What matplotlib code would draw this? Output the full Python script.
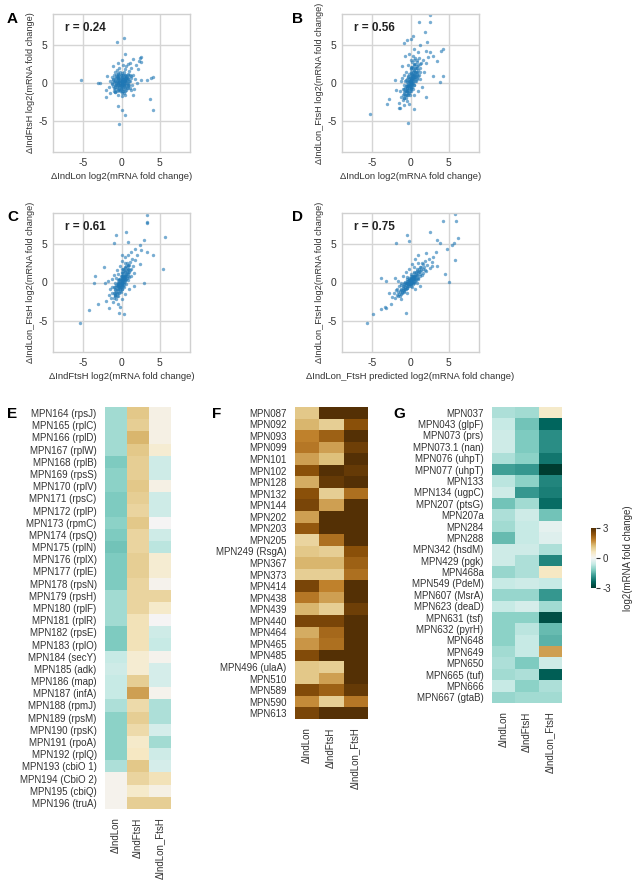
import matplotlib
matplotlib.use("Agg")
import matplotlib.pyplot as plt
import numpy as np

plt.rcParams['font.family'] = ['Liberation Sans', 'DejaVu Sans']
plt.rcParams['axes.unicode_minus'] = False

W, H = 638, 881

# -------------------------
# Scatter data (x, y)
# -------------------------
panel_a = [  # dIndLon vs dIndFtsH
    (-0.9, 0.3), (-0.8, -0.2), (-0.7, 0.6), (-0.6, -0.5), (-0.6, 0.9), (-0.5, 0.1), (-0.5, -0.9),
    (-0.4, 0.4), (-0.4, 1.2), (-0.3, -0.3), (-0.3, 0.7), (-0.2, 0.0), (-0.2, -1.1), (-0.2, 1.5),
    (-0.1, 0.3), (-0.1, -0.6), (0.0, 0.1), (0.0, 0.8), (0.0, -0.4), (0.1, 1.1), (0.1, -0.1),
    (0.1, -1.3), (0.2, 0.5), (0.2, 0.2), (0.2, -0.8), (0.3, 1.4), (0.3, 0.0), (0.3, -0.4),
    (0.4, 0.7), (0.4, -1.0), (0.5, 0.3), (0.5, 1.8), (0.6, -0.2), (0.6, 0.9), (0.7, 0.4),
    (0.7, -0.7), (0.8, 1.2), (0.8, 0.0), (0.9, 0.6), (1.0, -0.3), (1.0, 1.6), (1.1, 0.2),
    (1.2, 0.9), (1.3, 2.0), (-1.0, -0.6), (-1.1, 0.5), (-1.2, -0.1), (-1.3, 0.8), (-1.5, 0.2),
    (-1.6, -0.5), (-0.8, 1.4), (-0.6, 1.7), (-0.4, -1.5), (0.0, -1.7), (0.4, -1.6), (0.6, 2.2),
    (0.9, 2.5), (1.5, 1.1), (1.6, -0.8), (1.8, 0.5), (-0.3, 2.0), (0.2, 2.4), (-0.9, -1.2),
    (1.4, -0.2), (0.1, 0.4), (-0.1, 0.6), (0.3, 0.3), (-0.2, -0.2), (0.0, -0.1), (0.2, -0.3),
    (-0.4, 0.0), (0.5, -0.5), (-0.5, 0.5), (0.6, 0.6), (-0.7, -0.3), (0.8, -0.4), (1.1, 1.0),
    (-1.0, 1.0), (0.4, 1.0), (-0.3, -0.8), (2.2, 1.8), (2.6, 2.8), (2.5, 3.4), (1.9, 2.4),
    (-0.5, 2.6), (0.0, 3.0), (-1.9, 0.9), (-2.1, -0.9),
    (-5.35, 0.44), (-0.57, 5.4), (0.3, 5.84), (-3.07, 0.0), (-2.85, 0.0), (0.44, 3.76),
    (2.4, 3.3), (2.3, 2.9), (3.3, 0.44), (3.9, 0.66), (4.1, 0.75), (3.8, -2.1), (4.2, -3.5),
    (-0.44, -3.0), (0.0, -3.5), (0.44, -4.2), (-0.35, -5.4), (-2.06, -1.77), (-1.5, -1.3),
    (1.5, -1.5), (1.3, -0.9), (2.0, 0.0), (2.6, 0.4), (1.1, 2.65), (1.5, 3.1), (-1.1, 2.2),
]
core_a = [
    (-1.2, 0.0), (-1.1, -0.4), (-1.1, 0.4), (-1.0, 0.1), (-0.9, -0.8), (-0.9, 0.7), (-0.8, 0.2),
    (-0.8, -0.5), (-0.7, 1.0), (-0.7, -0.1), (-0.6, 0.3), (-0.6, -1.0), (-0.5, 0.8), (-0.5, -0.3),
    (-0.4, -0.6), (-0.4, 0.6), (-0.3, 1.1), (-0.3, 0.1), (-0.2, -0.9), (-0.2, 0.4), (-0.1, 1.0),
    (-0.1, -0.3), (0.0, -1.0), (0.0, 0.3), (0.0, 1.3), (0.1, -0.6), (0.1, 0.7), (0.2, -1.1),
    (0.2, 1.0), (0.3, -0.1), (0.3, 0.6), (0.4, -0.7), (0.4, 0.2), (0.5, 1.1), (0.5, -0.1),
    (0.6, 0.3), (0.6, -0.9), (0.7, 0.8), (0.7, 0.0), (0.8, 0.5), (0.9, -0.2), (0.9, 1.0),
    (1.0, 0.3), (1.1, -0.6), (-0.5, 1.3), (-1.0, -1.1), (0.3, -1.3), (-0.6, 0.0), (0.0, 0.0),
    (0.1, 0.1), (-0.2, 0.2), (0.2, -0.2), (-0.3, -0.4), (0.4, 0.4), (-0.1, -0.5), (0.5, 0.6),
    (-0.4, 0.9), (0.8, -0.6), (-0.8, -1.2), (1.2, 0.6),
]

panel_b = [  # dIndLon vs dIndLon_FtsH
    (-1.2, -1.8), (-1.0, -2.2), (-1.0, -0.8), (-0.9, -1.4), (-0.8, -0.3), (-0.8, -2.0), (-0.7, -1.0),
    (-0.7, 0.2), (-0.6, -1.6), (-0.6, -0.4), (-0.5, 0.5), (-0.5, -1.1), (-0.4, -0.7), (-0.4, 0.1),
    (-0.4, -2.4), (-0.3, -0.2), (-0.3, 0.8), (-0.3, -1.3), (-0.2, 0.3), (-0.2, -0.6), (-0.2, 1.2),
    (-0.1, -0.1), (-0.1, 0.6), (-0.1, -1.0), (0.0, 0.0), (0.0, 1.0), (0.0, -0.5), (0.0, 1.8),
    (0.1, 0.4), (0.1, -0.3), (0.1, 1.4), (0.2, 0.7), (0.2, -0.1), (0.2, 2.1), (0.3, 1.0),
    (0.3, 0.2), (0.3, -0.8), (0.4, 1.6), (0.4, 0.5), (0.5, 1.2), (0.5, 2.5), (0.5, -0.2),
    (0.6, 0.8), (0.6, 1.9), (0.7, 1.4), (0.7, 0.3), (0.8, 2.2), (0.8, 1.0), (0.9, 2.8),
    (0.9, 0.6), (1.0, 1.7), (1.1, 1.1), (1.1, 3.2), (1.2, 2.0), (1.3, 0.5), (1.4, 2.6),
    (-1.4, -1.0), (-1.5, -2.6), (-1.3, 0.2), (-1.1, 0.6), (-0.9, 1.0), (-0.6, 1.5), (-0.3, 2.4),
    (0.0, 3.0), (0.3, 3.5), (0.6, 3.3), (1.0, 4.0), (0.4, 4.5), (-0.2, 3.8), (1.6, 3.0),
    (1.8, 1.5), (2.0, 2.6), (1.5, -0.5), (1.0, -1.0), (0.5, -1.5), (-0.2, -2.8), (-0.8, -2.9),
    (0.1, 0.1), (0.0, 0.4), (-0.1, 0.2), (0.2, 0.9), (-0.3, -0.4), (0.3, 0.6), (-0.5, -0.6),
    (0.4, 1.1), (0.1, -0.6), (-0.2, -0.2), (0.6, 1.5), (0.8, 3.0), (1.2, 2.5), (2.3, 3.4),
    (2.0, 4.2),
    (-5.3, -4.1), (-0.3, -5.2), (-2.8, -2.1), (-3.05, -2.8), (-1.55, -3.3), (-1.4, -3.2),
    (0.5, -3.45), (2.1, -1.86), (3.9, 0.1), (4.25, 0.97), (3.0, 0.97), (3.45, 2.9), (4.25, 4.4),
    (4.0, 4.2), (2.55, 8.9), (2.55, 7.9), (1.06, 8.0), (1.95, 6.6), (0.3, 6.1), (0.0, 5.8),
    (-0.9, 5.2), (-0.45, 5.55), (1.2, 4.9), (2.2, 5.3), (2.5, 4.0), (3.0, 3.5), (-0.75, 3.5),
    (-1.1, 2.2), (-2.1, 0.4), (-1.9, -0.9),
]
core_b = [
    (-0.8, -1.9), (-0.8, -1.2), (-0.7, -1.6), (-0.7, -0.6), (-0.6, -1.1), (-0.6, -2.0), (-0.5, -0.9),
    (-0.5, -1.5), (-0.5, -0.2), (-0.4, -1.2), (-0.4, -0.4), (-0.3, -1.6), (-0.3, -0.9), (-0.3, 0.1),
    (-0.2, -1.3), (-0.2, -0.4), (-0.2, 0.5), (-0.1, -0.7), (-0.1, 0.3), (-0.1, -1.5), (0.0, -0.2),
    (0.0, 0.6), (0.0, -1.1), (0.0, 1.3), (0.1, 0.0), (0.1, 0.8), (0.1, -0.8), (0.1, 1.9),
    (0.2, 0.4), (0.2, 1.2), (0.2, -0.5), (0.3, 0.0), (0.3, 1.4), (0.3, 2.0), (0.4, 0.8),
    (0.4, -0.3), (0.4, 2.3), (0.5, 0.6), (0.5, 1.7), (0.6, 0.2), (0.6, 1.1), (0.6, 2.5),
    (0.7, 0.9), (0.7, 1.9), (0.8, 1.5), (0.8, 0.5), (0.9, 1.3), (0.9, 2.0), (1.0, 0.9),
    (1.0, 2.4), (-0.9, -0.8), (-1.0, -1.6), (-0.6, 0.4), (-0.3, 0.9), (0.0, 2.1), (0.2, 2.7),
    (0.5, 3.0), (1.2, 1.5), (-0.1, 0.0), (0.2, 0.1),
]

panel_c = [  # dIndFtsH vs dIndLon_FtsH
    (-1.4, -2.0), (-1.2, -1.4), (-1.1, -2.5), (-1.0, -0.6), (-0.9, -1.6), (-0.8, -1.0), (-0.8, 0.0),
    (-0.7, -2.1), (-0.6, -0.5), (-0.6, -1.3), (-0.5, 0.3), (-0.5, -0.9), (-0.4, -1.7), (-0.4, -0.2),
    (-0.3, 0.5), (-0.3, -0.6), (-0.2, -1.1), (-0.2, 0.1), (-0.1, 0.8), (-0.1, -0.3), (0.0, 0.0),
    (0.0, -0.8), (0.0, 1.2), (0.1, 0.4), (0.1, -0.4), (0.2, 0.9), (0.2, -0.1), (0.2, 1.7),
    (0.3, 0.6), (0.3, -0.6), (0.4, 1.3), (0.4, 0.2), (0.5, 2.0), (0.5, 0.8), (0.6, 1.1),
    (0.6, -0.2), (0.7, 1.6), (0.7, 2.5), (0.8, 0.9), (0.9, 2.1), (0.9, 0.3), (1.0, 1.4),
    (1.1, 2.7), (1.2, 1.8), (1.3, 0.9), (1.4, 3.0), (1.5, 2.2), (-1.5, -0.8), (-1.7, -1.6),
    (-1.3, 0.4), (-1.0, 1.0), (-0.6, 1.6), (-0.2, 2.2), (0.1, 2.8), (0.4, 3.3), (0.8, 3.6),
    (1.2, 4.0), (0.0, 3.5), (1.7, 1.2), (1.8, 2.9), (2.0, 3.6), (1.6, -0.4), (1.0, -0.9),
    (0.5, -1.5), (0.0, -2.2), (-0.5, -2.8), (-0.2, -3.2), (0.1, 0.2), (-0.1, -0.1), (0.2, 0.5),
    (0.3, 0.1), (-0.3, -0.3), (0.0, 0.6), (-0.4, 0.0), (0.4, 0.7), (-0.2, -0.7), (0.6, 0.5),
    (0.8, 1.8), (-0.8, -1.8), (2.4, 2.4), (2.6, 4.2), (-2.0, -2.4), (-1.8, 0.2),
    (-5.5, -5.2), (-4.3, -3.5), (-3.1, -2.8), (-3.5, 0.9), (-3.6, 0.0), (-2.2, 0.0), (-2.3, 2.0),
    (-1.6, -3.3), (-0.35, -4.0), (0.35, -4.1), (2.9, 0.0), (5.4, 1.8), (5.75, 5.9), (3.4, 8.7),
    (3.3, 7.8), (3.4, 7.7), (0.6, 6.6), (-0.66, 6.1), (-1.0, 5.1), (0.9, 5.3), (2.4, 4.9),
    (3.3, 4.0), (4.2, 3.5), (2.9, 5.5), (1.8, 4.3),
]
core_c = [
    (-1.0, -1.3), (-1.0, -2.0), (-0.9, -0.8), (-0.9, -1.4), (-0.8, -1.6), (-0.8, -0.6), (-0.7, -1.2),
    (-0.7, -0.3), (-0.6, -1.8), (-0.6, -0.9), (-0.5, -0.5), (-0.5, -1.4), (-0.5, 0.0), (-0.4, -1.0),
    (-0.4, -0.5), (-0.3, -1.3), (-0.3, -0.1), (-0.3, 0.3), (-0.2, -0.5), (-0.2, -0.9), (-0.2, 0.5),
    (-0.1, -0.6), (-0.1, 0.2), (-0.1, -1.2), (0.0, 0.3), (0.0, -0.3), (0.0, 0.8), (0.1, 0.0),
    (0.1, 0.8), (0.1, -0.9), (0.1, 1.4), (0.2, 0.3), (0.2, 1.2), (0.2, -0.5), (0.3, 0.9),
    (0.3, 1.6), (0.3, -0.2), (0.4, 0.5), (0.4, 1.9), (0.5, 1.0), (0.5, 0.3), (0.5, 1.5),
    (0.6, 2.1), (0.6, 0.8), (0.7, 1.2), (0.7, 0.6), (0.8, 1.4), (0.8, 2.3), (0.9, 1.1),
    (0.9, 1.8), (1.0, 0.7), (1.0, 2.3), (-1.2, -0.6), (-0.7, 0.6), (-0.4, 1.1), (0.0, 1.8),
    (0.4, 2.5), (1.1, 1.6), (0.0, 0.0), (0.2, 0.6),
]

panel_d = [  # predicted dIndLon_FtsH vs measured dIndLon_FtsH
    (-2.4, -1.9), (-2.2, -1.4), (-2.0, -2.0), (-1.9, -1.0), (-1.8, -1.6), (-1.6, -1.2), (-1.5, -0.5),
    (-1.4, -1.8), (-1.3, -1.0), (-1.2, -0.3), (-1.1, -1.4), (-1.0, -0.7), (-0.9, -0.1), (-0.9, -1.2),
    (-0.8, -0.5), (-0.7, 0.1), (-0.7, -0.9), (-0.6, -0.3), (-0.5, 0.4), (-0.5, -0.7), (-0.4, -0.1),
    (-0.3, 0.2), (-0.3, -0.5), (-0.2, 0.6), (-0.2, -0.2), (-0.1, 0.1), (0.0, 0.0), (0.0, 0.5),
    (0.0, -0.4), (0.1, 0.3), (0.1, 0.9), (0.2, 0.1), (0.2, 0.6), (0.3, -0.2), (0.3, 0.9),
    (0.4, 0.4), (0.5, 1.2), (0.5, 0.1), (0.6, 0.7), (0.7, 1.4), (0.7, 0.3), (0.8, 1.0),
    (0.9, 1.8), (1.0, 0.6), (1.1, 1.3), (1.2, 2.0), (1.3, 0.9), (1.4, 1.6), (1.5, 2.5),
    (1.6, 1.2), (1.8, 2.0), (1.9, 2.8), (2.0, 1.5), (2.2, 2.3), (2.4, 3.0), (2.6, 1.9),
    (2.8, 2.6), (3.0, 3.3), (-1.0, 0.8), (-0.6, 1.3), (-0.2, 1.7), (0.2, 2.4), (0.6, 3.0),
    (1.0, 3.5), (-1.6, 0.2), (1.2, -0.4), (0.6, -0.8), (-2.6, -2.8), (-2.8, -1.4), (-1.2, -2.2),
    (-0.4, -1.4), (0.1, 0.2), (-0.1, -0.2), (0.3, 0.4), (-0.2, 0.3), (0.4, 0.8), (-0.5, 0.0),
    (0.6, 0.4), (0.0, 0.2), (3.3, 4.0), (2.0, 3.8), (-2.0, 0.6), (3.5, 2.2),
    (-5.75, -5.2), (-4.9, -4.1), (-3.85, -3.45), (-3.4, -3.2), (-3.2, -3.3), (-3.85, 0.58),
    (-3.2, 0.2), (-1.95, 5.1), (-0.44, 6.1), (-0.18, 5.4), (-0.6, -3.9), (2.55, 6.6), (4.3, 7.9),
    (5.9, 8.85), (5.95, 8.0), (6.2, 5.8), (5.65, 5.1), (5.4, 4.9), (5.8, 2.9), (5.0, 0.1),
    (4.55, 1.1), (4.8, 4.4), (3.45, 5.5), (3.9, 5.1), (2.8, 2.2),
]
core_d = [
    (-1.5, -1.5), (-1.4, -1.1), (-1.3, -1.5), (-1.2, -0.8), (-1.1, -1.2), (-1.0, -1.0), (-1.0, -0.4),
    (-0.9, -0.8), (-0.8, -1.1), (-0.8, -0.2), (-0.7, -0.6), (-0.6, -0.9), (-0.6, 0.0), (-0.5, -0.4),
    (-0.4, -0.7), (-0.4, 0.2), (-0.3, -0.2), (-0.2, -0.5), (-0.2, 0.3), (-0.1, -0.1), (-0.1, 0.5),
    (0.0, -0.2), (0.0, 0.3), (0.1, 0.6), (0.1, -0.1), (0.2, 0.3), (0.2, 0.9), (0.3, 0.5),
    (0.3, 0.1), (0.4, 0.9), (0.4, 0.0), (0.5, 0.6), (0.5, 1.4), (0.6, 0.9), (0.6, 0.2),
    (0.7, 1.1), (0.8, 0.6), (0.8, 1.5), (0.9, 1.0), (1.0, 1.3), (1.0, 0.4), (1.1, 1.7),
    (1.2, 1.1), (1.3, 1.5), (1.4, 2.0), (1.5, 1.0), (1.6, 1.8), (1.7, 2.4), (-1.7, -1.8),
    (-1.8, -0.8), (-1.2, 0.0), (-0.5, 0.7), (0.0, 1.1), (0.5, 2.0), (1.0, 2.5), (1.9, 1.6),
    (0.2, -0.6), (-0.3, 0.0), (0.0, 0.0), (0.9, -0.1),
]

scatter_r = ["0.24", "0.56", "0.61", "0.75"]
scatter_xlabels = ["\u0394IndLon log2(mRNA fold change)",
                   "\u0394IndLon log2(mRNA fold change)",
                   "\u0394IndFtsH log2(mRNA fold change)",
                   "\u0394IndLon_FtsH predicted log2(mRNA fold change)"]
scatter_ylabels = ["\u0394IndFtsH log2(mRNA fold change)",
                   "\u0394IndLon_FtsH log2(mRNA fold change)",
                   "\u0394IndLon_FtsH log2(mRNA fold change)",
                   "\u0394IndLon_FtsH log2(mRNA fold change)"]

# -------------------------
# Heatmap data
# -------------------------
strains = ["\u0394IndLon", "\u0394IndFtsH", "\u0394IndLon_FtsH"]

genes_e = ["MPN164 (rpsJ)", "MPN165 (rplC)", "MPN166 (rplD)", "MPN167 (rplW)", "MPN168 (rplB)",
           "MPN169 (rpsS)", "MPN170 (rplV)", "MPN171 (rpsC)", "MPN172 (rplP)", "MPN173 (rpmC)",
           "MPN174 (rpsQ)", "MPN175 (rplN)", "MPN176 (rplX)", "MPN177 (rplE)", "MPN178 (rpsN)",
           "MPN179 (rpsH)", "MPN180 (rplF)", "MPN181 (rplR)", "MPN182 (rpsE)", "MPN183 (rplO)",
           "MPN184 (secY)", "MPN185 (adk)", "MPN186 (map)", "MPN187 (infA)", "MPN188 (rpmJ)",
           "MPN189 (rpsM)", "MPN190 (rpsK)", "MPN191 (rpoA)", "MPN192 (rplQ)", "MPN193 (cbiO 1)",
           "MPN194 (CbiO 2)", "MPN195 (cbiQ)", "MPN196 (truA)"]
vals_e = [
    [-0.9, 1.1, 0.2], [-0.9, 1.0, 0.2], [-0.9, 1.3, 0.2], [-0.9, 1.1, 0.4], [-1.2, 1.0, -0.5],
    [-1.1, 1.0, -0.5], [-1.1, 1.1, 0.2], [-1.2, 1.0, -0.5], [-1.2, 0.9, -0.5], [-1.1, 1.1, 0.0],
    [-1.2, 0.9, -0.5], [-1.3, 0.9, -0.7], [-1.2, 1.0, 0.4], [-1.2, 1.0, 0.4], [-1.2, 0.9, 0.1],
    [-0.9, 0.9, 0.9], [-0.9, 0.9, 0.5], [-0.9, 0.7, 0.0], [-1.2, 0.7, -0.5], [-1.2, 0.7, -0.6],
    [-0.6, 0.4, 0.1], [-0.5, 0.4, -0.4], [-0.6, 1.0, -0.4], [-0.6, 1.5, 0.1], [-0.8, 0.8, -0.8],
    [-1.1, 1.0, -0.8], [-1.1, 0.8, -0.4], [-1.1, 0.5, -0.9], [-1.1, 0.6, -0.5], [-0.8, 1.1, -0.4],
    [0.1, 0.9, 0.7], [0.1, 0.5, 0.2], [0.1, 1.0, 1.0],
]

genes_f = ["MPN087", "MPN092", "MPN093", "MPN099", "MPN101", "MPN102", "MPN128", "MPN132",
           "MPN144", "MPN202", "MPN203", "MPN205", "MPN249 (RsgA)", "MPN367", "MPN373",
           "MPN414", "MPN438", "MPN439", "MPN440", "MPN464", "MPN465", "MPN485",
           "MPN496 (ulaA)", "MPN510", "MPN589", "MPN590", "MPN613"]
vals_f = [
    [1.1, 3.0, 3.0], [1.3, 1.0, 2.4], [1.8, 2.2, 3.0], [1.9, 1.5, 2.7], [1.5, 1.2, 3.0],
    [2.4, 3.0, 2.8], [1.4, 2.8, 3.0], [2.4, 1.0, 2.0], [2.6, 1.5, 3.0], [1.5, 3.0, 3.0],
    [2.3, 3.0, 3.0], [0.9, 2.0, 3.0], [1.1, 1.0, 2.4], [1.3, 1.3, 2.2], [1.0, 1.0, 2.0],
    [2.6, 1.8, 3.0], [1.9, 1.5, 3.0], [1.3, 1.0, 2.7], [2.6, 2.6, 3.0], [1.4, 2.1, 3.0],
    [1.6, 2.0, 3.0], [2.5, 3.0, 3.0], [1.1, 1.0, 3.0], [1.1, 1.5, 3.0], [2.5, 2.2, 2.8],
    [1.7, 1.0, 1.9], [2.6, 3.0, 3.0],
]

genes_g = ["MPN037", "MPN043 (glpF)", "MPN073 (prs)", "MPN073.1 (nan)", "MPN076 (uhpT)",
           "MPN077 (uhpT)", "MPN133", "MPN134 (ugpC)", "MPN207 (ptsG)", "MPN207a", "MPN284",
           "MPN288", "MPN342 (hsdM)", "MPN429 (pgk)", "MPN468a", "MPN549 (PdeM)",
           "MPN607 (MsrA)", "MPN623 (deaD)", "MPN631 (tsf)", "MPN632 (pyrH)", "MPN648",
           "MPN649", "MPN650", "MPN665 (tuf)", "MPN666", "MPN667 (gtaB)"]
vals_g = [
    [-0.8, -0.9, 0.5], [-0.6, -1.3, -2.4], [-0.5, -1.2, -1.9], [-0.5, -1.2, -1.9], [-0.8, -1.1, -2.2],
    [-1.7, -1.8, -3.0], [-0.7, -1.1, -2.0], [-0.5, -1.8, -2.1], [-1.3, -0.9, -2.3], [-0.8, -0.5, -1.3],
    [-0.9, -0.6, -0.2], [-1.4, -0.6, -0.3], [-0.5, -0.5, -0.8], [-0.5, -0.8, -2.0], [-1.0, -0.8, 0.6],
    [-0.6, -0.5, -0.6], [-1.0, -1.0, -1.8], [-0.6, -0.4, -0.9], [-1.1, -1.1, -2.7], [-1.1, -0.7, -1.4],
    [-1.1, -0.6, -1.5], [-0.9, -0.6, 1.5], [-0.8, -1.2, -0.5], [-0.9, -0.8, -2.5], [-0.6, -1.1, -0.8],
    [-1.0, -0.9, -0.9],
]

fig = plt.figure(figsize=(W / 100, H / 100), dpi=100)


def px_axes(l, t, r, b):
    return fig.add_axes([l / W, 1 - b / H, (r - l) / W, (b - t) / H])


# -------------------------
# Scatter panels A-D
# -------------------------
boxes = [(53, 14, 190, 152), (342, 14, 479, 152), (53, 213, 190, 352), (342, 213, 479, 352)]
panels = [panel_a + core_a, panel_b + core_b, panel_c + core_c, panel_d + core_d]
letters = ["A", "B", "C", "D"]
letter_pos = [(7, 12), (292, 12), (7, 210), (292, 210)]

for i in range(4):
    ax = px_axes(*boxes[i])
    pts = np.array(panels[i])
    ax.scatter(pts[:, 0], pts[:, 1], s=6, color="#1f77b4", alpha=0.6, linewidths=0)
    ax.set_xlim(-9, 9)
    ax.set_ylim(-9, 9)
    ax.set_xticks([-5, 0, 5])
    ax.set_yticks([-5, 0, 5])
    ax.grid(True, color="#d5d5d5", linewidth=1.0)
    ax.set_axisbelow(True)
    for sp in ax.spines.values():
        sp.set_color("#d0d0d0")
        sp.set_linewidth(1.0)
    ax.tick_params(length=0, labelsize=7.5, colors="#333333", pad=4)
    ax.set_xlabel(scatter_xlabels[i], fontsize=6.8, color="#333333", labelpad=3)
    ax.set_ylabel(scatter_ylabels[i], fontsize=6.6, color="#333333", labelpad=2)
    ax.text(0.09, 0.9, "r = " + scatter_r[i], transform=ax.transAxes,
            fontsize=8.5, fontweight="bold", color="#222222", va="center")
    fig.text(letter_pos[i][0] / W, 1 - letter_pos[i][1] / H, letters[i],
             fontsize=11, fontweight="bold", va="top", ha="left")

# -------------------------
# Heatmaps E-G
# -------------------------
hm_boxes = [(105, 407, 171, 809), (295, 407, 367, 719), (492, 407, 562, 703)]
hm_genes = [genes_e, genes_f, genes_g]
hm_vals = [vals_e, vals_f, vals_g]
hm_letters = [("E", 7), ("F", 212), ("G", 393)]

im = None
for i in range(3):
    ax = px_axes(*hm_boxes[i])
    data = np.array(hm_vals[i])
    im = ax.imshow(data, cmap="BrBG_r", vmin=-3, vmax=3, aspect="auto",
                   interpolation="nearest")
    ax.set_yticks(range(len(hm_genes[i])))
    ax.set_yticklabels(hm_genes[i], fontsize=7, color="#333333")
    ax.set_xticks(range(3))
    ax.set_xticklabels(strains, rotation=90, fontsize=7, color="#333333")
    ax.tick_params(length=0, pad=6)
    for sp in ax.spines.values():
        sp.set_visible(False)
    fig.text(hm_letters[i][1] / W, 1 - 407 / H, hm_letters[i][0],
             fontsize=11, fontweight="bold", va="top", ha="left")

cax = px_axes(591, 528, 596, 588)
cb = fig.colorbar(im, cax=cax, ticks=[-3, 0, 3])
cb.outline.set_visible(False)
cax.tick_params(length=3, width=0.8, labelsize=7, colors="#333333", pad=2)
cb.set_label("log2(mRNA fold change)", fontsize=7, color="#333333", labelpad=8)

fig.savefig("out.png", dpi=100, facecolor="white")
